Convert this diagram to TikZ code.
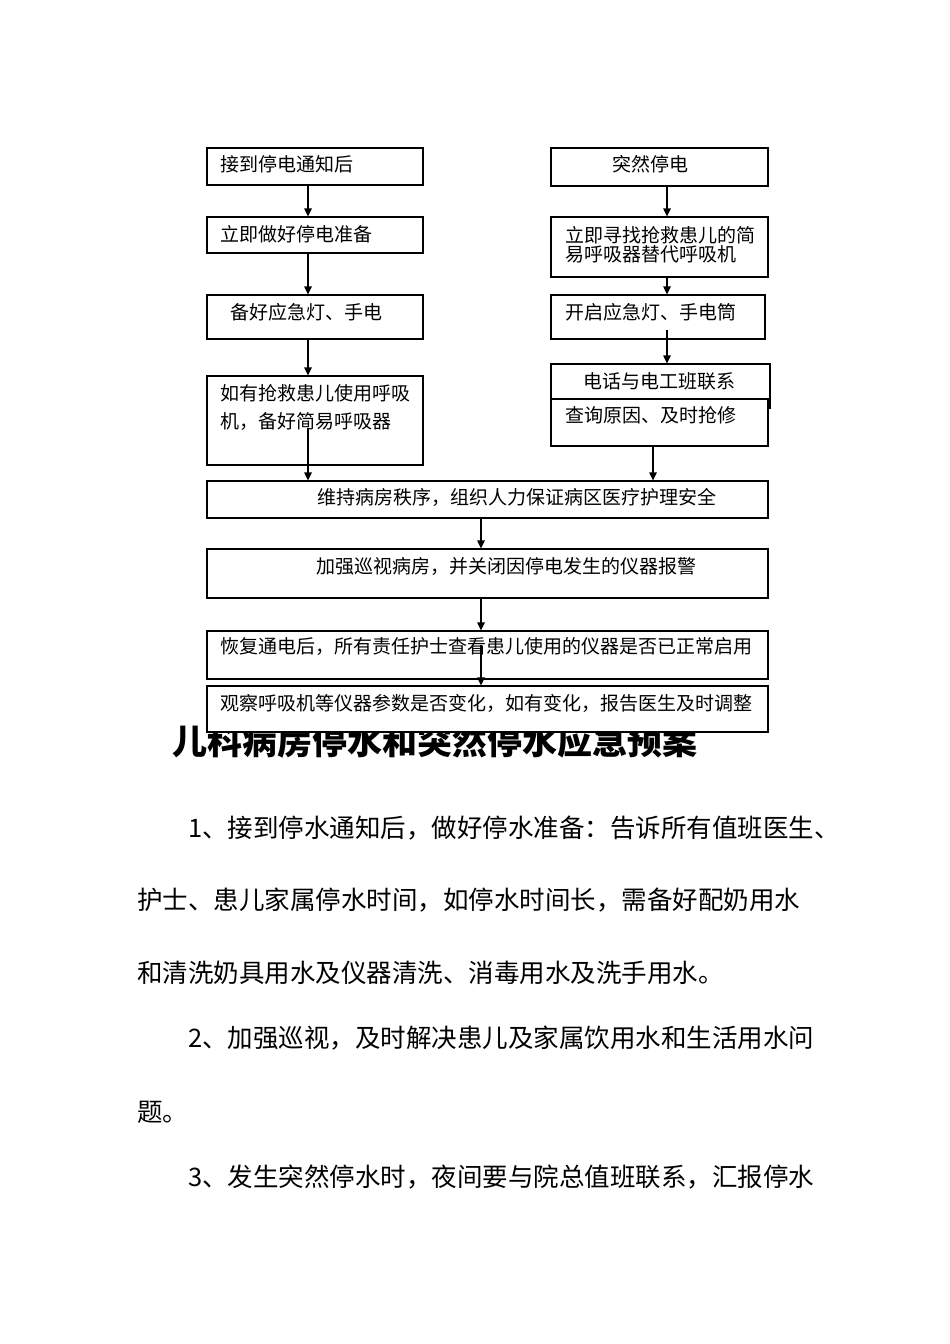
\documentclass[tikz,border=0pt]{standalone}
\usepackage{fontspec}
\setmainfont{Noto Sans CJK SC}
\usetikzlibrary{arrows.meta}

\begin{document}
\begin{tikzpicture}[x=1pt,y=-1pt,
    box/.style={draw, line width=1.2pt, fill=white, inner sep=0pt},
    txt/.style={anchor=west, inner sep=0pt, font=\fontsize{19pt}{28pt}\selectfont},
    para/.style={anchor=west, inner sep=0pt, font=\fontsize{25.5pt}{27pt}\selectfont},
    arr/.style={line width=1.2pt, -{Triangle[length=8pt,width=7.5pt]}}]
    \fill[white] (0,0) rectangle (950,1344);
    \useasboundingbox (0,0) rectangle (950,1344);

    % heading of the second part, half hidden by the last box
    \node[anchor=west, inner sep=0pt, font=\bfseries\fontsize{35pt}{36pt}\selectfont] (title) at (172,741) {儿科病房停水和突然停水应急预案};

    % left column
    \node[box, minimum width=216pt, minimum height=37pt] (B1) at (315,166.5) {};
    \node[box, minimum width=216pt, minimum height=36pt] (B2) at (315,235) {};
    \node[box, minimum width=216pt, minimum height=44pt] (B3) at (315,317) {};
    \node[box, minimum width=216pt, minimum height=89pt] (B4) at (315,420.5) {};
    % right column
    \node[box, minimum width=217pt, minimum height=38pt] (R1) at (659.5,167) {};
    \node[box, minimum width=217pt, minimum height=60pt] (R2) at (659.5,247) {};
    \node[box, minimum width=214pt, minimum height=44pt] (R3) at (658,317) {};
    \node[box, minimum width=219pt, minimum height=44pt] (R4) at (660.5,386) {};
    \node[box, minimum width=217pt, minimum height=47pt] (R5) at (659.5,422.5) {};
    % full width
    \node[box, minimum width=561pt, minimum height=37pt] (M1) at (487.5,499.5) {};
    \node[box, minimum width=561pt, minimum height=49pt] (M2) at (487.5,573.5) {};
    \node[box, minimum width=561pt, minimum height=48pt] (M3) at (487.5,655) {};
    \node[box, minimum width=561pt, minimum height=46pt] (M4) at (487.5,709) {};

    \node[txt] (tB1) at (220,164) {接到停电通知后};
    \node[txt] (tB2) at (220,234) {立即做好停电准备};
    \node[txt] (tB3) at (230,312) {备好应急灯、手电};
    \node[txt, align=left] (tB4) at (220,407) {如有抢救患儿使用呼吸\\机，备好简易呼吸器};
    \node[txt, anchor=center] (tR1) at (650,164) {突然停电};
    \node[txt, align=left, font=\fontsize{19pt}{19.5pt}\selectfont] (tR2) at (565,244.5) {立即寻找抢救患儿的简\\易呼吸器替代呼吸机};
    \node[txt] (tR3) at (565,312) {开启应急灯、手电筒};
    \node[txt, anchor=center] (tR4) at (659,381) {电话与电工班联系};
    \node[txt] (tR5) at (565,415) {查询原因、及时抢修};
    \node[txt, anchor=center] (tM1) at (517,497) {维持病房秩序，组织人力保证病区医疗护理安全};
    \node[txt] (tM2) at (316,566) {加强巡视病房，并关闭因停电发生的仪器报警};
    \node[txt] (tM3) at (220,646) {恢复通电后，所有责任护士查看患儿使用的仪器是否已正常启用};
    \node[txt] (tM4) at (220,703) {观察呼吸机等仪器参数是否变化，如有变化，报告医生及时调整};

    \coordinate (lx) at (308,0);
    \coordinate (rx) at (667,0);
    \coordinate (ry) at (653,0);
    \coordinate (mx) at (481,0);
    \coordinate (s4) at (308,428);
    \coordinate (s7) at (667,330);
    \coordinate (s11) at (481,645);

    \draw[arr] (B1.south -| lx) -- (B2.north -| lx);
    \draw[arr] (B2.south -| lx) -- (B3.north -| lx);
    \draw[arr] (B3.south -| lx) -- (B4.north -| lx);
    \draw[arr] (s4) -- (M1.north -| s4);
    \draw[arr] (R1.south -| rx) -- (R2.north -| rx);
    \draw[arr] (R2.south -| rx) -- (R3.north -| rx);
    \draw[arr] (s7) -- (R4.north -| s7);
    \draw[arr] (R5.south -| ry) -- (M1.north -| ry);
    \draw[arr] (M1.south -| mx) -- (M2.north -| mx);
    \draw[arr] (M2.south -| mx) -- (M3.north -| mx);
    \draw[arr] (s11) -- (M4.north -| mx);

    % text below the chart
    \node[para] (p1) at (188,828) {1、接到停水通知后，做好停水准备：告诉所有值班医生、};
    \node[para] (p2) at (137,900) {护士、患儿家属停水时间，如停水时间长，需备好配奶用水};
    \node[para] (p3) at (137,973) {和清洗奶具用水及仪器清洗、消毒用水及洗手用水。};
    \node[para] (p4) at (188,1038) {2、加强巡视，及时解决患儿及家属饮用水和生活用水问};
    \node[para] (p5) at (137,1112) {题。};
    \node[para] (p6) at (188,1177) {3、发生突然停水时，夜间要与院总值班联系，汇报停水};
\end{tikzpicture}
\end{document}
